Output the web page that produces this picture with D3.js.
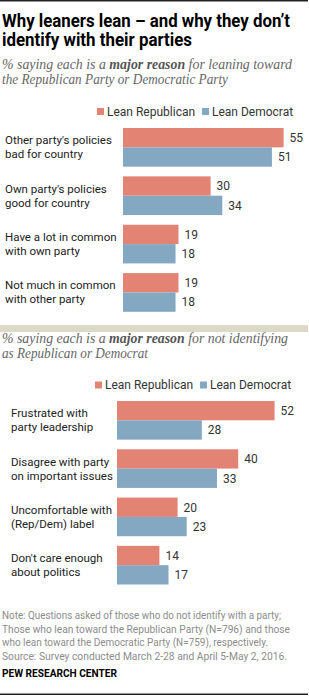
<!DOCTYPE html>
<html>
<head>
<meta charset="utf-8">
<script src="https://cdnjs.cloudflare.com/ajax/libs/d3/7.8.5/d3.min.js"></script>
<style>
  body { margin: 0; background: #fff; }
  text { font-family: Roboto, "Liberation Sans", Arial, sans-serif; }
  .title { font-size: 18px; font-weight: 700; fill: #000; }
  .sub { font-family: "Liberation Serif", Georgia, serif; font-style: italic; font-size: 14px; fill: #666; }
  .sub .b { font-weight: 700; fill: #555; }
  .cat { font-size: 11.5px; fill: #222; }
  .val { font-size: 12px; fill: #333; }
  .leg { font-size: 12px; fill: #333; }
  .note { font-size: 10.5px; fill: #8c8c8c; }
  .src { font-size: 10px; font-weight: 700; fill: #000; }
</style>
</head>
<body>
<div id="chart"></div>
<script>
  const width = 309, height = 696;

  // data
  const series = ["Lean Republican", "Lean Democrat"];
  const colors = ["#e38373", "#84a8c2"];

  const leanCats = [
    ["Other party's policies", "bad for country"],
    ["Own party's policies", "good for country"],
    ["Have a lot in common", "with own party"],
    ["Not much in common", "with other party"]
  ];
  const leanRep = [55, 30, 19, 19];
  const leanDem = [51, 34, 18, 18];

  const notCats = [
    ["Frustrated with", "party leadership"],
    ["Disagree with party", "on important issues"],
    ["Uncomfortable with", "(Rep/Dem) label"],
    ["Don't care enough", "about politics"]
  ];
  const notRep = [52, 40, 20, 14];
  const notDem = [28, 33, 23, 17];

  const svg = d3.select("#chart").append("svg")
    .attr("width", width).attr("height", height);

  // fit a text element to a given width
  function fit(sel, w) {
    sel.attr("textLength", w).attr("lengthAdjust", "spacingAndGlyphs");
  }

  // top rule
  svg.append("rect").attr("x", 0).attr("y", 0).attr("width", 308).attr("height", 1.5).attr("fill", "#222");

  // title
  svg.append("text").attr("class", "title").attr("x", 2).attr("y", 27)
    .text("Why leaners lean \u2013 and why they don\u2019t").call(fit, 288);
  svg.append("text").attr("class", "title").attr("x", 2).attr("y", 46)
    .text("identify with their parties").call(fit, 190);

  function subtitle(y, pre, bold, post, w1, line2, w2) {
    const t = svg.append("text").attr("class", "sub").attr("x", 2).attr("y", y);
    t.append("tspan").text(pre);
    t.append("tspan").attr("class", "b").text(bold);
    t.append("tspan").text(post);
    fit(t, w1);
    svg.append("text").attr("class", "sub").attr("x", 2).attr("y", y + 14.5)
      .text(line2).call(fit, w2);
  }

  function legend(y, x1, x2) {
    [x1, x2].forEach((x, i) => {
      svg.append("rect").attr("x", x).attr("y", y - 3.5).attr("width", 7).attr("height", 7)
        .attr("fill", colors[i]);
      svg.append("text").attr("class", "leg").attr("x", x + 10).attr("y", y)
        .attr("dy", "0.35em").text(series[i]);
    });
  }

  function panel(cats, rep, dem, x0, perUnit, y0, y1, labelX) {
    const x = d3.scaleLinear().domain([0, 100]).range([x0, x0 + perUnit * 100]);
    const idx = d3.range(cats.length);
    const y = d3.scaleBand().domain(idx).range([y0, y1]).paddingInner(0.2).paddingOuter(0);
    const ys = d3.scaleBand().domain([0, 1]).range([0, y.bandwidth()]);

    const g = svg.append("g");
    idx.forEach(i => {
      const vals = [rep[i], dem[i]];
      const grp = g.append("g").attr("transform", `translate(0,${y(i)})`);
      grp.selectAll("rect").data(vals).enter().append("rect")
        .attr("x", x(0))
        .attr("y", (d, j) => ys(j))
        .attr("width", d => x(d) - x(0))
        .attr("height", ys.bandwidth())
        .attr("fill", (d, j) => colors[j]);
      grp.selectAll("text.val").data(vals).enter().append("text")
        .attr("class", "val")
        .attr("x", d => x(d) + 6)
        .attr("y", (d, j) => ys(j) + ys.bandwidth() / 2)
        .attr("dy", "0.36em")
        .text(d => d);

      const cy = y(i) + y.bandwidth() / 2;
      cats[i].forEach((line, k) => {
        g.append("text").attr("class", "cat")
          .attr("x", labelX).attr("y", cy - 3 + k * 14)
          .text(line);
      });
    });
  }

  // panel 1
  subtitle(69, "% saying each is a ", "major reason", " for leaning toward", 290,
    "the Republican Party or Democratic Party", 226);
  legend(111.5, 97, 202);
  panel(leanCats, leanRep, leanDem, 123, 2.92, 128, 311.8, 5);

  // separator band
  svg.append("rect").attr("x", 0).attr("y", 325).attr("width", 308).attr("height", 7).attr("fill", "#dcd9c7");

  // panel 2
  subtitle(343, "% saying each is a ", "major reason", " for not identifying", 286,
    "as Republican or Democrat", 146);
  legend(385, 95, 200);
  panel(notCats, notRep, notDem, 117, 3.03, 401, 584.5, 11);

  // notes
  const notes = [
    ["Note: Questions asked of those who do not identify with a party;", 279],
    ["Those who lean toward the Republican Party (N=796) and those", 288],
    ["who lean toward the Democratic Party (N=759), respectively.", 266],
    ["Source: Survey conducted March 2-28 and April 5-May 2, 2016.", 285]
  ];
  notes.forEach((n, i) => {
    svg.append("text").attr("class", "note").attr("x", 2).attr("y", 619 + i * 13.5)
      .text(n[0]).call(fit, n[1]);
  });
  svg.append("text").attr("class", "src").attr("x", 2).attr("y", 677)
    .text("PEW RESEARCH CENTER").call(fit, 115);

  // bottom rule
  svg.append("rect").attr("x", 0).attr("y", 693.5).attr("width", 308).attr("height", 1.5).attr("fill", "#222");
</script>
</body>
</html>
